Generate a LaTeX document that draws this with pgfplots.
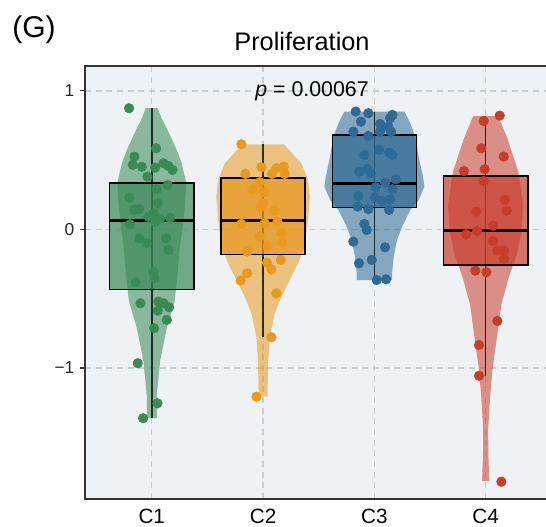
\documentclass[border=0pt]{standalone}
\usepackage{pgfplots}
\pgfplotsset{compat=1.18}
\usepackage{fontspec}
\setmainfont{Liberation Sans}
\definecolor{bgc}{HTML}{EEF2F4}
\definecolor{gridc}{HTML}{C9CDD0}
\definecolor{axc}{HTML}{333333}
\definecolor{cgreen}{HTML}{3A8A56}
\definecolor{corange}{HTML}{E8991E}
\definecolor{cblue}{HTML}{2E6A94}
\definecolor{cred}{HTML}{C83C2C}
\pgfplotsset{
  boxst/.style={draw=black, line width=1.1pt, fill=#1, fill opacity=0.7},
  medst/.style={black, line width=2.4pt},
  whst/.style={black, opacity=0.75, line width=1.1pt},
  viost/.style={fill=#1, fill opacity=0.55, draw=none},
  ptst/.style={only marks, mark=*, mark size=3.6pt, color=#1, mark options={draw=none, fill=#1}},
}
\begin{document}
\begin{tikzpicture}
\begin{axis}[
  at={(0,0)}, anchor=south west,
  scale only axis, width=350.6pt, height=324.75pt,
  xmin=0.4, xmax=4.6, ymin=-1.946, ymax=1.180,
  xtick={1,2,3,4}, xticklabels={C1,C2,C3,C4},
  ytick={-1,0,1}, yticklabels={−1,0,1},
  /pgf/number format/assume math mode=true,
  axis background/.style={fill=bgc},
  axis line style={line width=2pt, color=axc},
  grid=major,
  major grid style={dash pattern=on 4.5pt off 3.5pt, line width=0.9pt, color=gridc},
  tick align=outside, major tick length=3.5pt,
  xtick style={draw=none},
  ytick style={color=axc, line width=0.8pt},
  yticklabel style={font=\fontsize{13}{15}\selectfont, color=black!85, xshift=-1pt},
  xticklabel style={font=\fontsize{15.5}{18}\selectfont, color=black, anchor=base, inner sep=0pt, yshift=-15pt},
  clip=false,
]
% ---------- violins ----------
\addplot[viost=cgreen] coordinates {
 (1.055,0.875) (1.09,0.80) (1.135,0.73) (1.21,0.60) (1.265,0.49) (1.31,0.335) (1.30,0.18) (1.275,0) (1.255,-0.11) (1.225,-0.38) (1.205,-0.52) (1.135,-0.71) (1.075,-0.95) (1.045,-1.20) (1.045,-1.363)
 (0.955,-1.363) (0.955,-1.20) (0.925,-0.95) (0.865,-0.71) (0.795,-0.52) (0.775,-0.38) (0.745,-0.11) (0.725,0) (0.70,0.18) (0.69,0.335) (0.735,0.49) (0.79,0.60) (0.865,0.73) (0.91,0.80) (0.945,0.875)} -- cycle;
\addplot[viost=corange] coordinates {
 (2.185,0.615) (2.344,0.478) (2.404,0.357) (2.42,0.237) (2.404,0.068) (2.374,-0.124) (2.314,-0.244) (2.24,-0.365) (2.165,-0.485) (2.105,-0.605) (2.06,-0.774) (2.045,-0.966) (2.04,-1.207)
 (1.96,-1.207) (1.955,-0.966) (1.94,-0.774) (1.895,-0.605) (1.835,-0.485) (1.76,-0.365) (1.686,-0.244) (1.626,-0.124) (1.596,0.068) (1.58,0.237) (1.596,0.357) (1.656,0.478) (1.815,0.615)} -- cycle;
\addplot[viost=cblue] coordinates {
 (3.27,0.851) (3.323,0.767) (3.368,0.670) (3.398,0.526) (3.437,0.381) (3.449,0.309) (3.398,0.213) (3.323,0.141) (3.249,0.020) (3.204,-0.076) (3.174,-0.196) (3.159,-0.316) (3.16,-0.365)
 (2.84,-0.365) (2.841,-0.316) (2.826,-0.196) (2.796,-0.076) (2.751,0.020) (2.677,0.141) (2.602,0.213) (2.551,0.309) (2.563,0.381) (2.602,0.526) (2.632,0.670) (2.677,0.767) (2.73,0.851)} -- cycle;
\addplot[viost=cred] coordinates {
 (4.112,0.819) (4.195,0.658) (4.293,0.418) (4.338,0.177) (4.323,-0.016) (4.278,-0.184) (4.204,-0.353) (4.14,-0.545) (4.097,-0.80) (4.06,-1.014) (4.04,-1.207) (4.022,-1.45) (4.025,-1.65) (4.033,-1.816)
 (3.967,-1.816) (3.975,-1.65) (3.978,-1.45) (3.96,-1.207) (3.94,-1.014) (3.903,-0.80) (3.86,-0.545) (3.796,-0.353) (3.722,-0.184) (3.677,-0.016) (3.662,0.177) (3.707,0.418) (3.805,0.658) (3.888,0.819)} -- cycle;
% ---------- whisker lines ----------
\addplot[whst] coordinates {(1,-1.363) (1,0.875)};
\addplot[whst] coordinates {(2,-0.774) (2,0.615)};
\addplot[whst] coordinates {(3,-0.365) (3,0.851)};
\addplot[whst] coordinates {(4,-1.06) (4,0.819)};
% ---------- boxes (q1, q3) and medians ----------
\addplot[boxst=cgreen] coordinates {(0.6215,-0.432) (1.3785,-0.432) (1.3785,0.334) (0.6215,0.334)} -- cycle;
\addplot[medst] coordinates {(0.6215,0.064) (1.3785,0.064)};
\addplot[boxst=corange] coordinates {(1.6215,-0.179) (2.3785,-0.179) (2.3785,0.370) (1.6215,0.370)} -- cycle;
\addplot[medst] coordinates {(1.6215,0.064) (2.3785,0.064)};
\addplot[boxst=cblue] coordinates {(2.6215,0.160) (3.3785,0.160) (3.3785,0.682) (2.6215,0.682)} -- cycle;
\addplot[medst] coordinates {(2.6215,0.333) (3.3785,0.333)};
\addplot[boxst=cred] coordinates {(3.6215,-0.256) (4.3785,-0.256) (4.3785,0.386) (3.6215,0.386)} -- cycle;
\addplot[medst] coordinates {(3.6215,-0.006) (4.3785,-0.006)};
% ---------- points ----------
\addplot[ptst=cgreen] coordinates {
(0.796,0.875) (1.039,0.586) (0.844,0.526) (0.829,0.466) (0.910,0.453) (1.030,0.446) (1.105,0.478) (1.150,0.458) (1.186,0.430) (0.961,0.381) (1.144,0.321) (1.045,0.292) (0.799,0.230) (1.054,0.189) (0.844,0.141) (0.886,0.146) (1.015,0.117) (0.970,0.092) (1.075,0.076) (1.165,0.085) (0.805,0.037) (1.030,0.056) (0.889,-0.064) (0.955,-0.100) (1.129,-0.064) (1.150,-0.148) (1.015,-0.305) (1.024,-0.352) (0.856,-0.381) (0.898,-0.533) (1.060,-0.521) (1.105,-0.533) (1.156,-0.562) (1.054,-0.586) (1.135,-0.653) (1.021,-0.713) (0.874,-0.966) (1.051,-1.255) (0.922,-1.363)};
\addplot[ptst=corange] coordinates {
(1.805,0.615) (1.985,0.449) (2.120,0.442) (2.186,0.454) (1.841,0.401) (2.081,0.401) (2.195,0.401) (1.970,0.341) (1.904,0.290) (2.009,0.269) (2.000,0.189) (1.976,0.160) (2.105,0.136) (1.805,0.040) (2.015,0.045) (2.129,0.056) (2.165,-0.023) (1.970,-0.052) (2.171,-0.095) (2.039,-0.124) (1.859,-0.160) (2.159,-0.220) (2.036,-0.240) (2.075,-0.288) (1.856,-0.316) (1.799,-0.369) (2.120,-0.461) (2.075,-0.778) (1.940,-1.207)};
\addplot[ptst=cblue] coordinates {
(2.832,0.851) (2.946,0.839) (2.880,0.778) (3.162,0.827) (3.141,0.803) (3.051,0.762) (3.126,0.742) (2.811,0.706) (3.051,0.706) (3.150,0.706) (2.946,0.675) (3.042,0.574) (2.910,0.538) (3.132,0.555) (3.162,0.538) (2.937,0.437) (2.862,0.418) (2.970,0.406) (3.192,0.362) (3.096,0.338) (3.012,0.305) (3.162,0.290) (2.856,0.242) (3.006,0.232) (3.141,0.218) (3.066,0.206) (2.850,0.165) (2.946,0.146) (3.132,0.141) (2.910,0.040) (2.931,-0.004) (2.811,-0.088) (3.096,-0.129) (2.976,-0.220) (2.862,-0.244) (3.021,-0.365) (3.105,-0.360)};
\addplot[ptst=cred] coordinates {
(4.126,0.822) (3.982,0.783) (3.961,0.586) (4.162,0.526) (3.805,0.422) (3.991,0.435) (3.982,0.350) (4.171,0.213) (4.189,0.136) (3.916,0.129) (4.066,0.027) (3.922,-0.011) (3.826,-0.035) (4.066,-0.083) (4.105,-0.153) (4.165,-0.153) (4.165,-0.213) (3.907,-0.297) (4.006,-0.309) (4.105,-0.661) (3.940,-0.834) (3.940,-1.056) (4.141,-1.821)};
\node[font=\fontsize{16}{19}\selectfont, anchor=center] at (axis cs:2.44,1.0) {\textit{p} = 0.00067};
\end{axis}
\node[font=\fontsize{19}{23}\selectfont, anchor=base] at (162.75pt,336.75pt) {Proliferation};
\node[font=\fontsize{22.5}{27}\selectfont, anchor=base west, inner sep=0pt] at (-54.75pt,345.75pt) {(G)};
\pgfresetboundingbox
\useasboundingbox (-63.75pt,-20.25pt) rectangle (345.75pt,374.25pt);
\end{tikzpicture}
\end{document}
